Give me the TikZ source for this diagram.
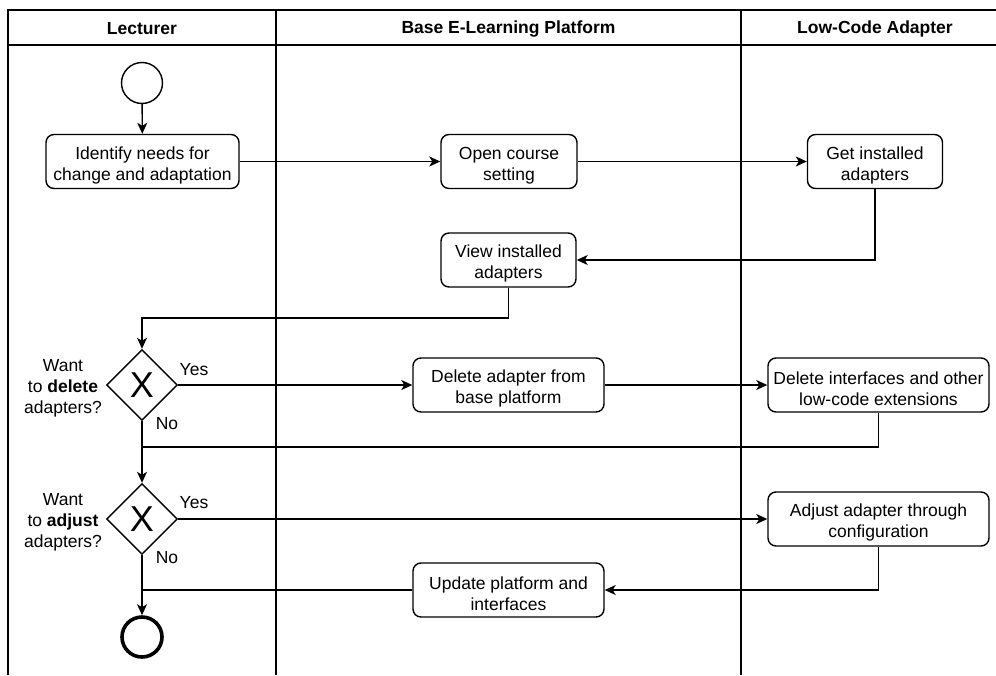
\documentclass[tikz,border=0pt]{standalone}
\usepackage{fontspec}
\setmainfont{Liberation Sans}
\usetikzlibrary{arrows.meta,shapes.geometric}

% strut that lowers a two-line label slightly inside its box
\newcommand{\topstrut}{\rule{0pt}{19.8pt}}

\tikzset{
  txt/.style={font=\fontsize{17.5}{21}\selectfont, align=center, inner sep=0pt},
  head/.style={txt, font=\fontsize{17.5}{21}\selectfont\bfseries},
  lane/.style={line width=1.6pt},
  task/.style={txt, draw, line width=1.4pt, rounded corners=8pt, inner sep=2pt,
    minimum height=54pt},
  gate/.style={draw, diamond, aspect=1, line width=1.4pt, minimum width=71pt,
    minimum height=71pt, inner sep=0pt, font=\fontsize{36}{36}\selectfont},
  startev/.style={draw, circle, line width=1.4pt, minimum size=41pt, inner sep=0pt},
  endev/.style={draw, circle, line width=3.6pt, minimum size=40pt, inner sep=0pt},
  flow/.style={line width=1.4pt, -{Stealth[length=11pt,width=10pt,inset=3pt]}},
  link/.style={line width=1.4pt},
}

\begin{document}
\begin{tikzpicture}[x=1pt,y=-1pt]
\useasboundingbox (0,0) rectangle (996,675);

% pool frame and lanes
\draw[lane] (8,675) -- (8,10) -- (996,10);
\draw[lane] (8,45) -- (996,45);
\draw[lane] (276,10) -- (276,675);
\draw[lane] (741,10) -- (741,675);

\node[head] (hLect) at (142,28.6) {Lecturer};
\node[head] (hBase) at (508.5,28.6) {Base E-Learning Platform};
\node[head] (hAdap) at (875,28.6) {Low-Code Adapter};

% activities and events
\node[startev] (start) at (142,83) {};
\node[task, minimum width=193pt] (identify) at (142.5,161.5) {\topstrut Identify needs for\\change and adaptation};
\node[task, minimum width=136pt] (open) at (509,161.5) {\topstrut Open course\\setting};
\node[task, minimum width=135pt] (get) at (875,161.5) {\topstrut Get installed\\adapters};
\node[task, minimum width=135pt] (view) at (508.5,260) {\topstrut View installed\\adapters};

\node[gate] (d1) at (142,385) {X};
\node[txt] (q1) at (63,388.5) {Want\\to \textbf{delete}\\adapters?};
\node[txt] (yes1) at (194,370) {Yes};
\node[txt] (no1) at (167,424) {No};
\node[task, minimum width=191pt] (delA) at (508.5,385) {\topstrut Delete adapter from\\base platform};
\node[task, minimum width=221pt] (delI) at (878.5,385) {\topstrut Delete interfaces and other\\low-code extensions};

\node[gate] (d2) at (142,519) {X};
\node[txt] (q2) at (63,522.5) {Want\\to \textbf{adjust}\\adapters?};
\node[txt] (yes2) at (194,503) {Yes};
\node[txt] (no2) at (167,558) {No};
\node[task, minimum width=221pt] (adjust) at (878.5,519) {\topstrut Adjust adapter through\\configuration};
\node[task, minimum width=191pt] (update) at (508.5,590) {\topstrut Update platform and\\interfaces};

\node[endev] (end) at (142,637) {};

% junction points
\coordinate (j1) at (142,318);
\coordinate (j2) at (142,447);
\coordinate (j3) at (142,590);

% sequence flows
\draw[flow] (start) -- (identify);
\draw[flow] (identify) -- (open);
\draw[flow] (open) -- (get);
\draw[flow] (get.south) |- (view.east);
\draw[flow] (view.south) |- (j1) -- (d1.north);
\draw[flow] (d1.east) -- (delA.west);
\draw[flow] (delA.east) -- (delI.west);
\draw[link] (delI.south) |- (j2);
\draw[flow] (d1.south) -- (d2.north);
\draw[flow] (d2.east) -- (adjust.west);
\draw[flow] (adjust.south) |- (update.east);
\draw[link] (update.west) -- (j3);
\draw[flow] (d2.south) -- (end.north);
\end{tikzpicture}
\end{document}
